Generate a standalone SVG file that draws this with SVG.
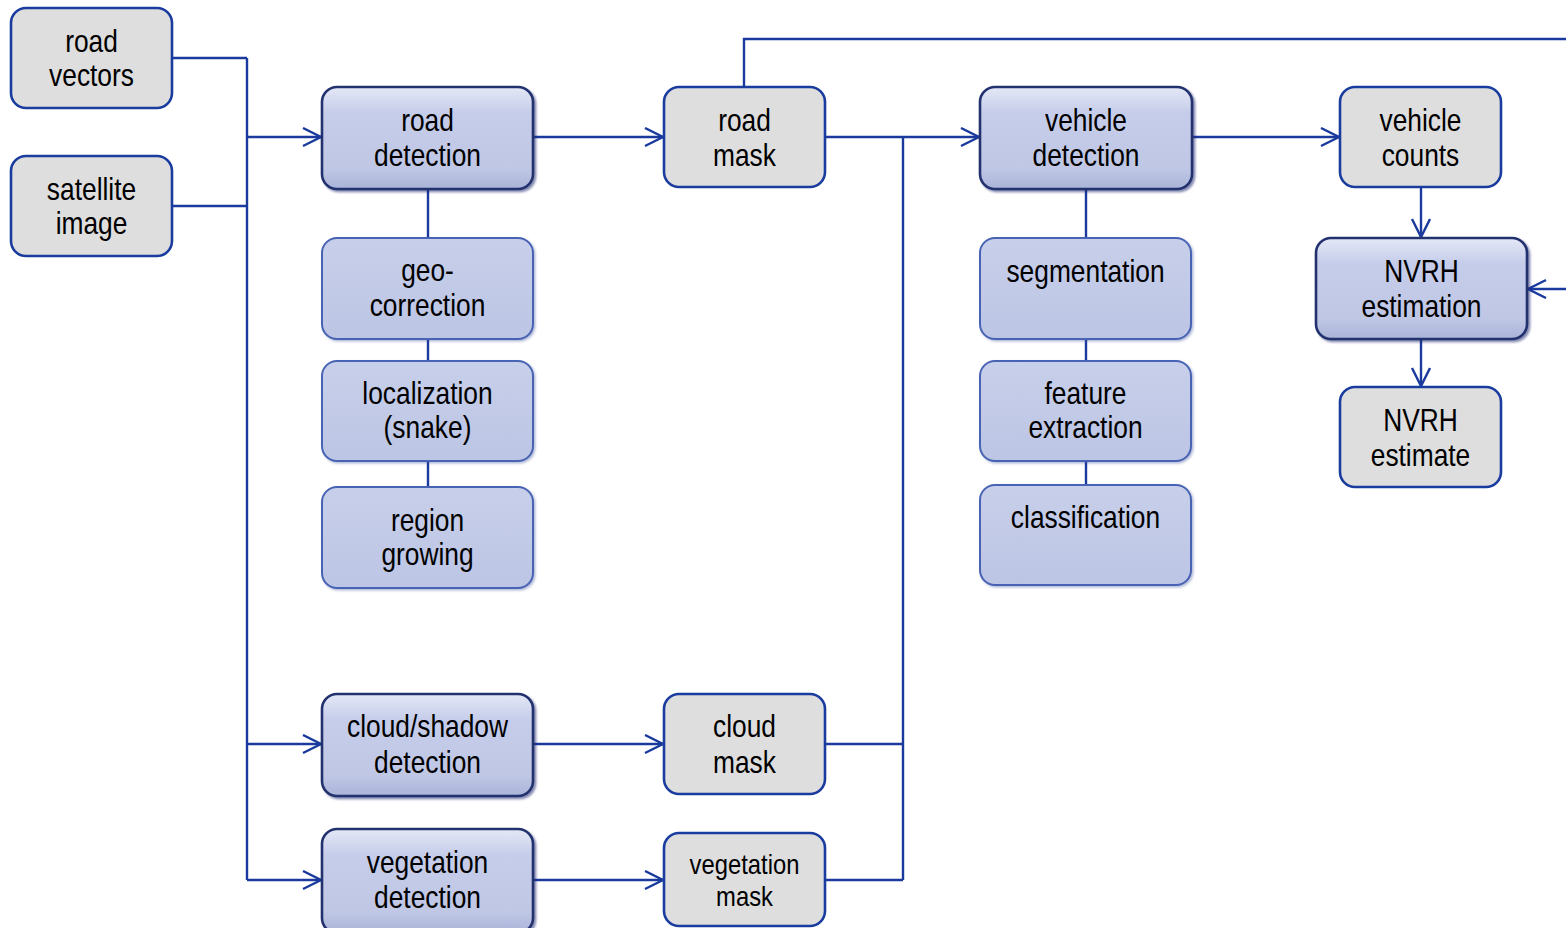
<svg xmlns="http://www.w3.org/2000/svg" width="1566" height="928" viewBox="0 0 1566 928">
<style>
.io{fill:#dedede;stroke:#1a3c9e;stroke-width:2.6}
.proc{fill:url(#gProc);stroke:#22306e;stroke-width:2.6;filter:url(#sh)}
.sub{fill:url(#gSub);stroke:#4a64b4;stroke-width:2;filter:url(#sh2)}
.t{font-family:"Liberation Sans",Arial,sans-serif;font-size:31px;fill:#000;text-anchor:middle}
.ts{font-family:"Liberation Sans",Arial,sans-serif;font-size:28px;fill:#000;text-anchor:middle}
.c{fill:none;stroke:#1a3a9e;stroke-width:2.4}
</style>
<defs>
<linearGradient id="gProc" x1="0" y1="0" x2="0" y2="1">
<stop offset="0" stop-color="#e4e8f6"/>
<stop offset="0.25" stop-color="#c6cdea"/>
<stop offset="0.8" stop-color="#bfc7e5"/>
<stop offset="1" stop-color="#aab4d8"/>
</linearGradient>
<linearGradient id="gSub" x1="0" y1="0" x2="0" y2="1">
<stop offset="0" stop-color="#c7cfea"/>
<stop offset="1" stop-color="#bcc5e4"/>
</linearGradient>
<filter id="sh" x="-10%" y="-10%" width="120%" height="130%">
<feDropShadow dx="2" dy="2" stdDeviation="1.2" flood-color="#1a2a70" flood-opacity="0.55"/>
</filter>
<filter id="sh2" x="-10%" y="-10%" width="120%" height="130%">
<feDropShadow dx="1.5" dy="1.5" stdDeviation="1" flood-color="#3a4e9a" flood-opacity="0.4"/>
</filter>
<marker id="ar" markerUnits="userSpaceOnUse" markerWidth="22" markerHeight="22" viewBox="0 0 22 22" refX="19" refY="10" orient="auto">
<path d="M1,1 L19,10 L1,19" fill="none" stroke="#1a3a9e" stroke-width="2.4"/>
</marker>
</defs>

<g id="connectors">
<path class="c" d="M172,58 H247 M172,206 H247 M247,58 V880"/>
<path class="c" d="M247,137 H321" marker-end="url(#ar)"/>
<path class="c" d="M247,744 H321" marker-end="url(#ar)"/>
<path class="c" d="M247,880 H321" marker-end="url(#ar)"/>
<path class="c" d="M533,137 H663" marker-end="url(#ar)"/>
<path class="c" d="M533,744 H663" marker-end="url(#ar)"/>
<path class="c" d="M533,880 H663" marker-end="url(#ar)"/>
<path class="c" d="M825,137 H979" marker-end="url(#ar)"/>
<path class="c" d="M903,137 V880 M825,744 H903 M825,880 H903"/>
<path class="c" d="M1192,137 H1339" marker-end="url(#ar)"/>
<path class="c" d="M1421,187 V237" marker-end="url(#ar)"/>
<path class="c" d="M1421,339 V386" marker-end="url(#ar)"/>
<path class="c" d="M744,87 V39 H1590 V289 H1528" marker-end="url(#ar)"/>
<path class="c" d="M428,189 V238 M428,339 V361 M428,461 V487"/>
<path class="c" d="M1086,189 V238 M1086,339 V361 M1086,461 V485"/>
</g>

<g id="road-vectors">
<rect class="io" x="11" y="8" width="161" height="100" rx="15"/>
<g transform="translate(91.5,0) scale(0.85,1)"><text class="t" x="0" y="52">road</text><text class="t" x="0" y="86">vectors</text></g>
</g>
<g id="satellite-image">
<rect class="io" x="11" y="156" width="161" height="100" rx="15"/>
<g transform="translate(91.5,0) scale(0.85,1)"><text class="t" x="0" y="200">satellite</text><text class="t" x="0" y="234">image</text></g>
</g>

<g id="road-detection">
<rect class="proc" x="322" y="87" width="211" height="102" rx="15"/>
<g transform="translate(427.5,0) scale(0.85,1)"><text class="t" x="0" y="131">road</text><text class="t" x="0" y="166">detection</text></g>
</g>
<g id="geo-correction">
<rect class="sub" x="322" y="238" width="211" height="101" rx="15"/>
<g transform="translate(427.5,0) scale(0.85,1)"><text class="t" x="0" y="281">geo-</text><text class="t" x="0" y="316">correction</text></g>
</g>
<g id="localization">
<rect class="sub" x="322" y="361" width="211" height="100" rx="15"/>
<g transform="translate(427.5,0) scale(0.85,1)"><text class="t" x="0" y="404">localization</text><text class="t" x="0" y="438">(snake)</text></g>
</g>
<g id="region-growing">
<rect class="sub" x="322" y="487" width="211" height="101" rx="15"/>
<g transform="translate(427.5,0) scale(0.85,1)"><text class="t" x="0" y="531">region</text><text class="t" x="0" y="565">growing</text></g>
</g>

<g id="cloud-shadow-detection">
<rect class="proc" x="322" y="694" width="211" height="102" rx="15"/>
<g transform="translate(427.5,0) scale(0.85,1)"><text class="t" x="0" y="737">cloud/shadow</text><text class="t" x="0" y="773">detection</text></g>
</g>
<g id="vegetation-detection">
<rect class="proc" x="322" y="829" width="211" height="104" rx="15"/>
<g transform="translate(427.5,0) scale(0.85,1)"><text class="t" x="0" y="873">vegetation</text><text class="t" x="0" y="908">detection</text></g>
</g>

<g id="road-mask">
<rect class="io" x="664" y="87" width="161" height="100" rx="15"/>
<g transform="translate(744.5,0) scale(0.85,1)"><text class="t" x="0" y="131">road</text><text class="t" x="0" y="166">mask</text></g>
</g>
<g id="cloud-mask">
<rect class="io" x="664" y="694" width="161" height="100" rx="15"/>
<g transform="translate(744.5,0) scale(0.85,1)"><text class="t" x="0" y="737">cloud</text><text class="t" x="0" y="773">mask</text></g>
</g>
<g id="vegetation-mask">
<rect class="io" x="664" y="833" width="161" height="93" rx="15"/>
<g transform="translate(744.5,0) scale(0.85,1)"><text class="ts" x="0" y="874">vegetation</text><text class="ts" x="0" y="906">mask</text></g>
</g>

<g id="vehicle-detection">
<rect class="proc" x="980" y="87" width="212" height="102" rx="15"/>
<g transform="translate(1086,0) scale(0.85,1)"><text class="t" x="0" y="131">vehicle</text><text class="t" x="0" y="166">detection</text></g>
</g>
<g id="segmentation">
<rect class="sub" x="980" y="238" width="211" height="101" rx="15"/>
<g transform="translate(1085.5,0) scale(0.85,1)"><text class="t" x="0" y="282">segmentation</text></g>
</g>
<g id="feature-extraction">
<rect class="sub" x="980" y="361" width="211" height="100" rx="15"/>
<g transform="translate(1085.5,0) scale(0.85,1)"><text class="t" x="0" y="404">feature</text><text class="t" x="0" y="438">extraction</text></g>
</g>
<g id="classification">
<rect class="sub" x="980" y="485" width="211" height="100" rx="15"/>
<g transform="translate(1085.5,0) scale(0.85,1)"><text class="t" x="0" y="528">classification</text></g>
</g>

<g id="vehicle-counts">
<rect class="io" x="1340" y="87" width="161" height="100" rx="15"/>
<g transform="translate(1420.5,0) scale(0.85,1)"><text class="t" x="0" y="131">vehicle</text><text class="t" x="0" y="166">counts</text></g>
</g>
<g id="nvrh-estimation">
<rect class="proc" x="1316" y="238" width="211" height="101" rx="15"/>
<g transform="translate(1421.5,0) scale(0.85,1)"><text class="t" x="0" y="282">NVRH</text><text class="t" x="0" y="317">estimation</text></g>
</g>
<g id="nvrh-estimate">
<rect class="io" x="1340" y="387" width="161" height="100" rx="15"/>
<g transform="translate(1420.5,0) scale(0.85,1)"><text class="t" x="0" y="431">NVRH</text><text class="t" x="0" y="466">estimate</text></g>
</g>
</svg>
